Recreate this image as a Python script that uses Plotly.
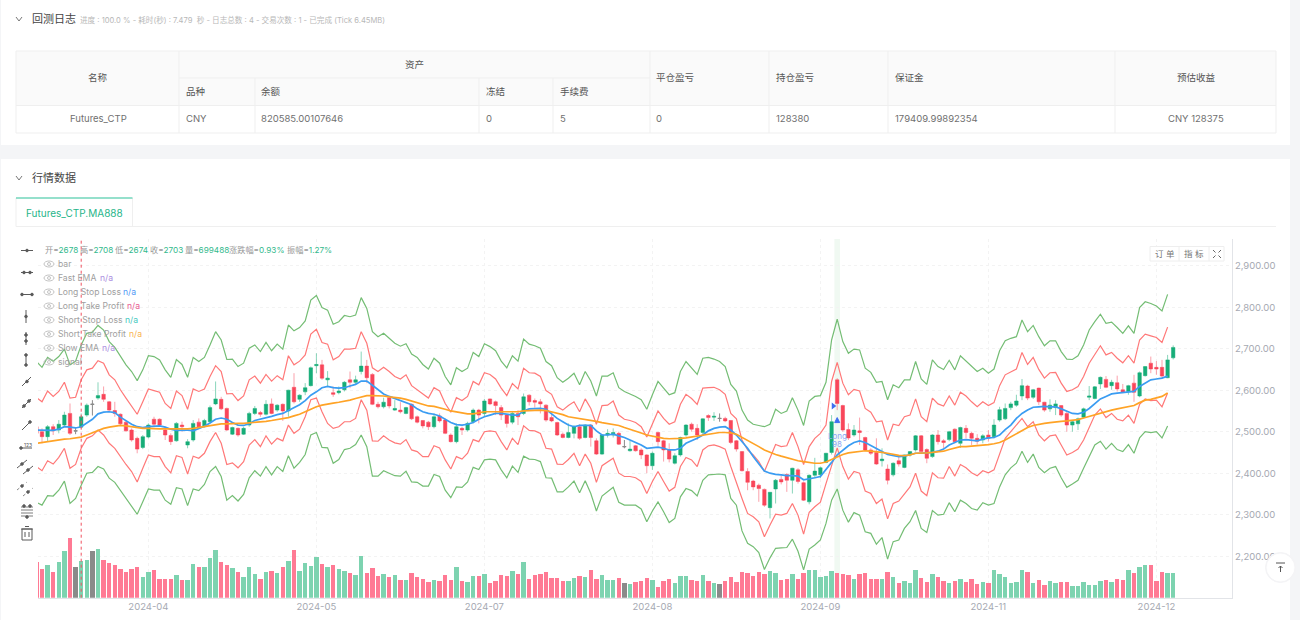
import plotly.graph_objects as go

W, H = 1300, 620

# ---------- chart data ----------
tick_index = [20, 50, 80, 110, 140, 170, 200]
tick_labels = ["2024-04", "2024-05", "2024-07", "2024-08", "2024-09", "2024-11", "2024-12"]
y_ticks = [2200, 2300, 2400, 2500, 2600, 2700, 2800, 2900]

opens = [2512,2500,2488,2512,2504,2516,2544,2502,2511,2540,2566,2581,2590,2572,2551,2542,2523,2504,2484,2462,2487,2530,2530,2504,2491,2478,2516,2468,2480,2523,
2512,2524,2567,2578,2556,2494,2508,2494,2516,2544,2546,2542,2567,2552,2566,2550,2607,2578,2596,2611,2659,2661,2625,2594,2594,2601,2625,2619,2645,2658,
2638,2566,2560,2582,2552,2552,2544,2566,2536,2527,2523,2512,2538,2528,2492,2476,2508,2504,2524,2552,2544,2579,2572,2558,2540,2523,2544,2544,2588,2575,
2572,2564,2534,2522,2494,2486,2496,2512,2486,2516,2478,2446,2492,2492,2496,2464,2454,2466,2456,2444,2418,2498,2478,2456,2424,2444,2492,2518,2508,2498,
2539,2535,2532,2532,2527,2478,2452,2404,2381,2371,2361,2317,2362,2385,2397,2383,2408,2377,2331,2395,2396,2426,2450,2625,2563,2505,2492,2502,2486,2456,
2450,2430,2410,2396,2430,2414,2444,2456,2490,2457,2440,2492,2478,2481,2506,2472,2508,2496,2484,2480,2492,2488,2528,2531,2558,2564,2586,2610,2583,2605,
2571,2555,2558,2563,2544,2516,2519,2535,2583,2580,2615,2626,2611,2618,2601,2597,2617,2586,2635,2665,2655,2655,2630,2678]
highs = [2536,2508,2516,2518,2528,2548,2568,2510,2544,2568,2576,2619,2609,2574,2572,2544,2526,2508,2488,2492,2520,2536,2532,2512,2496,2523,2524,2482,2528,2532,
2531,2563,2621,2584,2558,2512,2510,2512,2548,2562,2550,2576,2580,2566,2568,2601,2641,2590,2617,2657,2689,2673,2646,2609,2609,2622,2645,2635,2693,2673,
2641,2572,2582,2584,2576,2571,2560,2568,2539,2528,2526,2544,2544,2532,2496,2520,2512,2524,2556,2555,2579,2580,2575,2564,2542,2550,2552,2592,2590,2580,
2579,2566,2547,2524,2498,2520,2516,2518,2518,2518,2484,2494,2506,2508,2500,2480,2478,2468,2460,2446,2452,2500,2480,2472,2448,2488,2518,2522,2518,2532,
2542,2547,2544,2536,2528,2480,2453,2412,2384,2375,2363,2354,2386,2395,2400,2413,2412,2380,2397,2437,2416,2449,2540,2629,2565,2520,2516,2534,2488,2460,
2484,2460,2421,2426,2440,2445,2453,2492,2492,2460,2494,2504,2482,2502,2508,2512,2516,2500,2494,2494,2504,2530,2560,2568,2572,2589,2627,2613,2603,2606,
2572,2578,2576,2564,2548,2528,2534,2558,2610,2610,2633,2634,2625,2635,2615,2613,2637,2645,2658,2681,2670,2673,2685,2708]
lows = [2488,2472,2476,2492,2496,2512,2492,2494,2508,2536,2539,2577,2572,2550,2536,2516,2500,2476,2448,2458,2484,2512,2512,2480,2468,2476,2500,2460,2476,2508,
2510,2520,2564,2552,2502,2492,2488,2492,2512,2540,2536,2539,2542,2548,2526,2536,2568,2572,2588,2609,2641,2625,2609,2584,2590,2597,2605,2614,2638,2617,
2564,2556,2556,2556,2550,2544,2542,2528,2520,2508,2504,2508,2522,2494,2474,2472,2492,2500,2520,2520,2536,2564,2540,2528,2510,2518,2516,2540,2563,2558,
2544,2524,2523,2490,2484,2484,2484,2480,2484,2464,2444,2444,2486,2486,2468,2460,2452,2452,2434,2400,2408,2466,2428,2426,2421,2440,2488,2500,2480,2494,
2526,2526,2524,2523,2470,2452,2404,2359,2359,2331,2319,2291,2327,2373,2355,2351,2375,2333,2325,2388,2388,2424,2445,2552,2500,2480,2488,2468,2453,2444,
2420,2416,2373,2392,2416,2412,2440,2452,2448,2424,2437,2469,2460,2477,2472,2461,2484,2468,2469,2472,2476,2484,2524,2528,2552,2560,2576,2576,2579,2564,
2548,2548,2540,2536,2500,2500,2504,2532,2576,2578,2603,2605,2601,2597,2593,2589,2572,2583,2633,2641,2637,2629,2629,2674]
closes = [2496,2488,2512,2502,2518,2540,2496,2502,2536,2564,2566,2587,2578,2552,2544,2519,2502,2480,2458,2488,2516,2518,2516,2492,2476,2520,2512,2476,2520,2511,
2527,2558,2579,2555,2504,2510,2492,2508,2544,2556,2542,2566,2544,2564,2550,2600,2572,2588,2606,2654,2662,2629,2629,2590,2598,2619,2619,2625,2658,2630,
2566,2560,2571,2562,2556,2548,2558,2531,2523,2514,2512,2536,2526,2496,2476,2512,2504,2520,2552,2540,2574,2567,2563,2540,2520,2544,2536,2584,2572,2571,
2567,2528,2526,2492,2486,2498,2512,2484,2516,2486,2446,2492,2496,2498,2470,2464,2458,2454,2444,2418,2448,2476,2456,2434,2442,2486,2516,2506,2492,2531,
2534,2537,2532,2526,2474,2458,2406,2378,2367,2363,2323,2354,2383,2379,2383,2412,2380,2335,2395,2405,2413,2448,2524,2568,2504,2485,2504,2498,2456,2448,
2422,2434,2383,2424,2422,2444,2452,2490,2452,2436,2492,2476,2474,2500,2476,2510,2498,2484,2477,2490,2484,2516,2553,2556,2567,2574,2611,2581,2601,2572,
2552,2564,2567,2540,2516,2524,2531,2555,2586,2608,2631,2607,2619,2603,2595,2611,2595,2642,2657,2651,2651,2634,2673,2703]
volume_k = [1016,824,939,747,1035,1341,1725,891,1064,1083,1351,1399,1083,987,939,834,747,814,882,604,728,795,537,546,546,642,508,508,968,882,
882,1131,1361,1016,949,843,747,594,891,671,537,747,757,709,872,1054,1370,767,987,920,1159,968,872,949,814,767,699,661,1188,699,
862,623,671,584,652,508,508,699,584,527,460,508,479,652,508,891,479,460,623,613,680,412,489,642,623,757,680,1016,527,661,
680,728,565,575,489,489,565,623,604,805,546,661,508,498,565,422,383,450,489,565,508,307,479,546,431,613,613,517,479,661,
470,431,383,479,584,460,738,699,632,728,671,776,719,517,537,680,546,719,786,786,604,613,776,719,671,642,546,680,709,546,
546,527,738,604,431,489,431,786,565,450,680,604,479,412,479,546,450,546,393,450,412,805,680,584,412,441,805,738,431,498,
355,470,412,450,450,345,345,450,374,355,470,508,450,546,508,786,699,882,929,929,489,738,709,699]

upper_green = [2669,2655,2679,2670,2681,2699,2661,2670,2709,2737,2740,2756,2745,2717,2703,2681,2661,2645,2623,2649,2683,2681,2673,2649,2631,2674,2662,2631,2679,2669,2679,2709,2741,2721,2674,2675,2657,2665,2701,2709,2693,2715,2695,2711,2699,2757,2743,2751,2767,2817,2828,2799,2793,2759,2765,2780,2777,
2781,2823,2797,2741,2729,2737,2725,2713,2706,2712,2687,2679,2662,2651,2677,2665,2633,2613,2654,2645,2653,2691,2681,2712,2705,2695,2670,2654,2683,2670,2723,2711,2707,2701,2669,2659,2630,2619,2629,2641,2613,2645,2622,2586,2634,2634,2642,2606,2597,2591,2585,2577,2554,2589,2621,2605,2589,2594,2645,2669,2654,2638,
2677,2679,2675,2669,2657,2614,2598,2552,2528,2518,2515,2512,2518,2554,2544,2550,2582,2552,2515,2574,2585,2587,2619,2721,2771,2717,2689,2699,2697,2653,2643,2619,2621,2577,2613,2606,2625,2625,2669,2627,2614,2673,2657,2650,2672,2649,2683,2670,2658,2645,2653,2641,2651,2695,
2719,2725,2729,2769,2741,2756,2729,2707,2719,2719,2693,2675,2674,2683,2709,2745,2765,2783,2761,2764,2751,2737,2755,2737,2799,2813,2809,2803,2791,2831]
upper_red = [2582,2572,2598,2585,2597,2619,2581,2583,2625,2649,2653,2671,2665,2637,2625,2601,2581,2560,2542,2572,2603,2599,2595,2568,2556,2598,2587,2554,2603,2597,2603,2633,2659,2645,2591,2592,2575,2586,2625,2634,2617,2638,2622,2635,2625,2683,2661,2670,2685,2735,2747,2715,2711,2673,2681,2699,2699,
2701,2741,2713,2654,2645,2655,2645,2633,2627,2637,2611,2601,2590,2581,2606,2598,2568,2547,2582,2575,2585,2621,2613,2642,2638,2627,2605,2587,2616,2603,2653,2642,2641,2633,2599,2590,2560,2552,2563,2572,2548,2579,2556,2518,2563,2564,2574,2540,2530,2527,2522,2512,2487,2520,2550,2532,2518,2524,2566,2590,2580,2566,
2605,2606,2607,2601,2590,2544,2531,2480,2456,2444,2428,2404,2436,2469,2464,2466,2498,2464,2421,2464,2484,2496,2516,2621,2667,2617,2589,2602,2598,2556,2547,2524,2526,2480,2518,2515,2536,2540,2579,2536,2524,2581,2567,2562,2586,2564,2595,2586,2572,2560,2572,2563,2570,2611,
2637,2645,2651,2691,2662,2679,2650,2629,2642,2643,2617,2597,2601,2609,2633,2665,2685,2707,2685,2691,2677,2666,2683,2665,2721,2735,2731,2727,2715,2752]
lower_red = [2416,2406,2430,2422,2438,2460,2412,2421,2460,2484,2490,2504,2492,2472,2460,2440,2421,2404,2379,2412,2444,2440,2440,2416,2401,2442,2438,2398,2441,2436,2448,2476,2498,2472,2421,2425,2413,2428,2468,2481,2464,2490,2470,2484,2478,2516,2496,2506,2536,2577,2581,2548,2520,
2508,2512,2524,2524,2532,2577,2552,
2478,2477,2490,2480,2473,2470,2481,2456,2452,2440,2440,2466,2461,2432,2410,2440,2434,2448,2481,2476,2500,2502,2500,2476,2456,2484,2469,2514,2503,2502,2496,2460,2458,2422,2421,2433,2448,2418,2446,2424,2378,2418,2428,2436,2400,2392,2392,2389,2380,2351,2380,2404,2380,2357,2366,2416,2438,2432,2416,
2456,2466,2468,2464,2458,2416,2375,2339,2303,2295,2283,2247,2275,2301,2299,2303,2327,2299,2253,2306,2319,2330,2375,2420,2461,2416,2386,2404,2400,2357,2351,2327,2338,2290,2327,2333,2351,2367,2400,2357,2346,2401,2389,2388,2416,2393,2421,2413,2401,2394,2406,2401,2408,2448,
2484,2500,2516,2532,2512,2524,2492,2478,2490,2492,2468,2444,2450,2458,2480,2512,2540,2555,2534,2544,2530,2526,2540,2520,2566,2579,2575,2576,2560,2593]
lower_green = [2330,2323,2346,2345,2359,2381,2327,2339,2371,2400,2402,2416,2410,2388,2378,2359,2339,2319,2301,2331,2362,2359,2359,2335,2325,2365,2362,2322,2362,2358,2373,2404,2416,2392,2335,2346,2333,2349,2389,2406,2393,2416,2396,2416,2404,2442,2412,2426,2445,2492,2498,2462,2461,2424,2433,2457,2460,
2469,2492,2464,2393,2393,2406,2400,2394,2393,2405,2379,2378,2369,2369,2397,2392,2359,2341,2367,2366,2379,2414,2409,2432,2434,2432,2408,2389,2417,2402,2441,2434,2433,2428,2389,2388,2355,2355,2367,2381,2353,2382,2351,2309,2345,2355,2366,2330,2323,2323,2323,2314,2283,2309,2331,2307,2281,2291,2343,2363,2358,2345,
2383,2396,2397,2398,2396,2339,2323,2261,2231,2223,2209,2168,2196,2219,2220,2221,2241,2212,2167,2217,2227,2239,2279,2335,2362,2311,2282,2305,2299,2259,2255,2229,2245,2193,2235,2239,2267,2283,2310,2267,2257,2310,2299,2301,2329,2307,2335,2327,2315,2311,2329,2323,2327,2367,
2396,2413,2424,2453,2426,2446,2414,2401,2412,2416,2389,2366,2374,2383,2412,2440,2468,2477,2458,2472,2457,2452,2469,2448,2485,2500,2498,2500,2485,2514]
fast_ema = [2504,2504,2504,2503,2506,2512,2511,2509,2512,2522,2530,2543,2547,2548,2546,2535,2526,2518,2512,2510,2512,2513,2514,2511,2506,2503,2504,2504,2502,2508,2513,2521,2530,2533,2530,2522,2516,2515,2519,2527,2530,2533,2537,2541,2544,2551,2558,2565,2575,2588,2596,2606,2609,2606,2605,2606,2610,2614,2622,2622,2612,2601,
2591,2585,2580,2575,2570,2565,2555,2548,2544,2542,2538,2530,2522,2517,2516,2518,2522,2530,2536,2540,2544,2544,2542,2540,2540,2550,2555,2556,2556,2554,2542,2532,2524,2516,2512,2515,2515,2515,2502,2492,2492,2494,2490,2486,2480,2474,2468,2460,2462,2463,2460,2456,2456,2460,2472,2478,2484,2492,2502,2508,2511,2512,2504,2492,2476,2460,2440,2421,2405,2400,2397,2396,2394,2394,2393,2384,2386,2389,2392,2408,2426,2444,2456,2466,2474,2478,2474,2466,2458,2452,2445,2442,2440,2441,2445,2448,2448,2449,2450,2453,2458,2468,2474,2480,2481,2480,2478,2482,2485,2486,2492,
2505,2516,2532,2544,2552,2559,2560,2561,2560,2560,2555,2550,2544,2543,2547,2556,2568,2579,2585,2591,2593,2594,2595,2597,2609,2617,2625,2627,2629,2634]
slow_ema = [2472,2474,2476,2479,2480,2482,2483,2485,2487,2492,2497,2503,2508,2511,2513,2515,2514,2512,2510,2508,2508,2507,2507,2507,2507,2506,2506,2507,2508,2510,2513,2515,2517,2519,2519,2520,2520,2520,2521,2523,2524,2525,2527,2529,2531,2534,2538,2542,2548,2555,2560,2564,2567,2569,2571,2573,2576,2580,2584,2587,2587,2587,2586,2584,2583,2581,2578,2574,2570,2566,2562,
2561,2558,2554,2550,2548,2545,2543,2543,2545,2548,2548,2548,2548,2548,2548,2548,2550,2551,2552,2552,2551,2548,2545,2541,2536,2534,2532,2530,2528,2525,2522,2520,2518,2515,2510,2506,2502,2497,2492,2489,2486,2484,2483,2483,2484,2485,2487,2489,2491,2494,2496,2498,2498,2497,2494,2487,2480,2472,2464,2456,2450,2445,2441,2437,2433,2430,2428,2426,2424,2424,2427,2433,
2440,2445,2449,2451,2453,2454,2453,2452,2450,2448,2445,2443,2442,2444,2448,2448,2449,2450,2451,2453,2457,2460,2464,2464,2465,2467,2468,2469,2471,2474,
2480,2488,2496,2504,2510,2515,2518,2520,2522,2524,2525,2526,2527,2529,2533,2537,2541,2545,2548,2552,2555,2558,2561,2563,2570,2576,2578,2582,2585,2593]

signal_bar = 143
entry_bar = 8
entry_marker_bar = 142.3
entry_marker_price = 2562
fill_marker_price = 2534

header_labels = ["开", "高", "低", "收", "量", "涨跌幅", "振幅"]
header_values = ["2678", "2708", "2674", "2703", "699488", "0.93%", "1.27%"]
indicator_names = ["bar", "Fast EMA", "Long Stop Loss", "Long Take Profit", "Short Stop Loss", "Short Take Profit", "Slow EMA", "signal"]
indicator_values = ["", "n/a", "n/a", "n/a", "n/a", "n/a", "n/a", ""]
indicator_colors = ["#999999", "#a98be0", "#4f97f5", "#e8568f", "#45c8c0", "#f9b24c", "#a98be0", "#999999"]

table_top = ["名称", "资产", "平仓盈亏", "持仓盈亏", "保证金", "预估收益"]
table_sub = ["品种", "余额", "冻结", "手续费"]
table_row = ["Futures_CTP", "CNY", "820585.00107646", "0", "5", "0", "128380", "179409.99892354", "CNY 128375"]

# ---------- helpers ----------
FONT = "Inter, 'Noto Sans CJK SC', sans-serif"
UP, DOWN, FLAT = "#16ad78", "#f9465a", "#8a8a8a"
VUP, VDOWN = "#7dd3b0", "#ff7a94"
shapes, notes = [], []

def fx(x): return x / W
def fy(y): return 1 - y / H
def rect(x0, y0, x1, y1, fill="rgba(0,0,0,0)", line="rgba(0,0,0,0)", lw=1, layer="below"):
    shapes.append(dict(type="rect", xref="paper", yref="paper", x0=fx(x0), x1=fx(x1), y0=fy(y0), y1=fy(y1),
                       fillcolor=fill, line=dict(color=line, width=lw), layer=layer))
def seg(x0, y0, x1, y1, color="#555555", lw=1, layer="above", dash="solid"):
    shapes.append(dict(type="line", xref="paper", yref="paper", x0=fx(x0), x1=fx(x1), y0=fy(y0), y1=fy(y1),
                       line=dict(color=color, width=lw, dash=dash), layer=layer))
def oval(cx, cy, rx, ry, fill="rgba(0,0,0,0)", line="#555555", lw=1, layer="above"):
    shapes.append(dict(type="circle", xref="paper", yref="paper", x0=fx(cx-rx), x1=fx(cx+rx), y0=fy(cy-ry), y1=fy(cy+ry),
                       fillcolor=fill, line=dict(color=line, width=lw), layer=layer))
def text(x, y, s, size=10, color="#666666", anchor="left", font=FONT):
    notes.append(dict(xref="paper", yref="paper", x=fx(x), y=fy(y), text=s, showarrow=False, xanchor=anchor, yanchor="middle",
                      font=dict(size=size, color=color, family=font), borderpad=0, borderwidth=0))

# ---------- page chrome ----------
rect(1, 0, 1290, 145, fill="#ffffff")
rect(1, 159, 1290, 620, fill="#ffffff")
for cy, title in [(19, "回测日志"), (178, "行情数据")]:
    seg(16, cy-2, 19, cy+2, color="#777777"); seg(19, cy+2, 22, cy-2, color="#777777")
    text(32, cy, title, size=11, color="#444444")
text(80, 20, "进度 : 100.0 % - 耗时(秒) : 7.479  秒 - 日志总数 : 4 - 交易次数 : 1 - 已完成 (Tick 6.45MB)", size=7.6, color="#b8b8b8")

# table
BORDER = "#efefef"
rect(16, 51, 1276, 105.5, fill="#fafafa")
rect(16, 105.5, 1276, 133, fill="#ffffff")
for c in [16, 179, 650, 769, 888, 1115, 1276]:
    seg(c, 51, c, 133, color=BORDER, layer="below")
for c in [255, 479, 553]:
    seg(c, 78, c, 133, color=BORDER, layer="below")
seg(16, 51, 1276, 51, color=BORDER, layer="below")
seg(179, 78, 650, 78, color=BORDER, layer="below")
seg(16, 105.5, 1276, 105.5, color=BORDER, layer="below")
seg(16, 133, 1276, 133, color=BORDER, layer="below")
text(98, 78, table_top[0], 9.5, "#555555", "center")
text(415, 64, table_top[1], 9.5, "#555555", "center")
for x, s in zip([656, 776, 895], table_top[2:5]):
    text(x, 78, s, 9.5, "#555555")
text(1196, 78, table_top[5], 9.5, "#555555", "center")
for x, s in zip([186, 261, 486, 560], table_sub):
    text(x, 91.5, s, 9.5, "#555555")
text(98, 119, table_row[0], 9.5, "#707070", "center")
for x, s in zip([186, 261, 486, 560, 656, 776, 895], table_row[1:8]):
    text(x, 119, s, 9.5, "#707070")
text(1196, 119, table_row[8], 9.5, "#707070", "center")

# tab
seg(16, 226.5, 1276, 226.5, color="#efefef", layer="below")
seg(132.5, 198, 132.5, 226.5, color="#efefef", layer="below")
seg(16, 198, 16, 226.5, color="#efefef", layer="below")
seg(16, 198, 132.5, 198, color="#2cc19a", lw=1.2, layer="below")
text(74.5, 212.5, "Futures_CTP.MA888", 10, "#1fb58a", "center")

# ---------- toolbar glyphs ----------
TB = 27
G = "#5a5a5a"
def dot(x, y): oval(x, y, 1.3, 1.3, fill=G, line=G)
seg(TB-6, 250.5, TB+6, 250.5, G); dot(TB, 250.5)
seg(TB-6, 272.5, TB+6, 272.5, G); dot(TB-3, 272.5); dot(TB+3, 272.5)
seg(TB-6, 294.5, TB+6, 294.5, G); dot(TB-5, 294.5); dot(TB+5, 294.5)
seg(TB-1, 310, TB-1, 323, G); dot(TB-1, 316.5)
seg(TB-1, 332, TB-1, 345, G); dot(TB-1, 335); dot(TB-1, 341)
seg(TB-1, 354, TB-1, 366, G); dot(TB-1, 355); dot(TB-1, 365)
seg(TB-5, 386, TB+4, 377, G); dot(TB, 381.5)
seg(TB-5, 408, TB+4, 399, G); dot(TB-3, 406); dot(TB+2, 401)
seg(TB-5, 430, TB+4, 421, G); dot(TB+3, 422)
seg(TB-7, 448, TB+5, 448, G); dot(TB-6, 448)
text(TB+0.5, 444.5, "123", 5, G, "center")
for dx in (-3, 3):
    seg(TB-7+dx, 471+dx, TB+3+dx, 463+dx, G); dot(TB-2+dx, 467+dx)
for dx in (-3, 3):
    seg(TB-7+dx, 493+dx, TB+3+dx, 485+dx, "#888888", dash="dot"); dot(TB-2+dx, 489+dx)
for yy in (507, 510, 513, 516):
    seg(TB-6, yy, TB+6, yy, G, lw=0.8)
dot(TB-3, 506); dot(TB+3, 506); dot(TB, 517)
rect(TB-5, 529, TB+5, 540, line=G, layer="above")
seg(TB-6, 529, TB+6, 529, G); seg(TB-2, 526.5, TB+2, 526.5, G)
seg(TB-2, 532, TB-2, 537, G); seg(TB+2, 532, TB+2, 537, G)

# ---------- indicator legend ----------
header_x = [45, 80, 115, 150, 185, 229, 287]
for hx, a, b in zip(header_x, header_labels, header_values):
    text(hx, 250, f'<span style="color:#999999">{a}=</span><span style="color:#33b98c">{b}</span>', 8.2)
value_x = [0, 100, 123, 127, 125, 129, 102, 0]
for k, (name, val, colr) in enumerate(zip(indicator_names, indicator_values, indicator_colors)):
    yy = 264 + 14 * k
    oval(49, yy, 5, 3, line="#b5b5b5", lw=0.8)
    oval(49, yy, 1.5, 1.5, line="#b5b5b5", lw=0.8)
    text(58, yy, name, 8.6, "#a0a0a0")
    if val:
        text(value_x[k], yy, val, 8.6, colr)

# ---------- top-right buttons and scroll button ----------
rect(1150, 246.5, 1224, 261, fill="#ffffff", line="#eeeeee", layer="above")
seg(1179, 246.5, 1179, 261, "#eeeeee"); seg(1209, 246.5, 1209, 261, "#eeeeee")
text(1164.5, 254, "订 单", 8.5, "#777777", "center")
text(1194, 254, "指 标", 8.5, "#777777", "center")
for sx, sy in [(-1, -1), (1, -1), (-1, 1), (1, 1)]:
    seg(1217+sx*1.5, 254+sy*1.5, 1217+sx*4, 254+sy*4, "#666666")
oval(1280.5, 567.5, 15, 15, fill="#f4f4f6", line="#f4f4f6")
oval(1280.5, 567.5, 13.5, 13.5, fill="#ffffff", line="#ffffff")
seg(1276, 563, 1285, 563, "#555555"); seg(1280.5, 566, 1280.5, 572, "#555555")
seg(1280.5, 566, 1278.5, 568, "#555555"); seg(1280.5, 566, 1282.5, 568, "#555555")

# ---------- chart ----------
index = list(range(len(closes)))
assert len(opens) == len(highs) == len(lows) == len(closes) == len(volume_k) == 204
for s_ in (upper_green, upper_red, lower_red, lower_green, fast_ema, slow_ema):
    assert len(s_) == 203, len(s_)

def vcolor(o, c):
    return VUP if c > o else (VDOWN if c < o else FLAT)

fig = go.Figure()
fig.add_trace(go.Bar(x=index, y=[v * 1000 for v in volume_k], yaxis="y2", width=0.76,
                     marker=dict(color=[vcolor(o, c) for o, c in zip(opens, closes)], line=dict(width=0)),
                     hoverinfo="skip"))
band_style = [(upper_green, "#74bd74"), (upper_red, "#ff7878"), (lower_red, "#ff7878"), (lower_green, "#74bd74")]
for series, colr in band_style:
    fig.add_trace(go.Scatter(x=index[:len(series)], y=series, mode="lines", line=dict(color=colr, width=1.2), hoverinfo="skip"))

moving = [i for i in index if opens[i] != closes[i]]
still = [i for i in index if opens[i] == closes[i]]
def pick(arr, idx): return [arr[i] for i in idx]
fig.add_trace(go.Candlestick(x=moving, open=pick(opens, moving), high=pick(highs, moving), low=pick(lows, moving), close=pick(closes, moving),
                             increasing=dict(line=dict(color="rgba(22,173,120,0.5)", width=1), fillcolor=UP),
                             decreasing=dict(line=dict(color="rgba(249,70,90,0.5)", width=1), fillcolor=DOWN),
                             whiskerwidth=0, hoverinfo="skip"))
fig.add_trace(go.Candlestick(x=still, open=pick(opens, still), high=pick(highs, still), low=pick(lows, still), close=pick(closes, still),
                             increasing=dict(line=dict(color=FLAT, width=1), fillcolor=FLAT),
                             decreasing=dict(line=dict(color=FLAT, width=1), fillcolor=FLAT),
                             whiskerwidth=0, hoverinfo="skip"))
fig.add_trace(go.Scatter(x=index[:len(fast_ema)], y=fast_ema, mode="lines", line=dict(color="#3a9cf2", width=1.7), hoverinfo="skip"))
fig.add_trace(go.Scatter(x=index[:len(slow_ema)], y=slow_ema, mode="lines", line=dict(color="#ffa326", width=1.7), hoverinfo="skip"))
fig.add_trace(go.Scatter(x=[entry_marker_bar], y=[entry_marker_price], mode="markers",
                         marker=dict(symbol="triangle-right", size=6, color="#3f6ff0"), hoverinfo="skip"))
fig.add_trace(go.Scatter(x=[signal_bar], y=[fill_marker_price], mode="markers",
                         marker=dict(symbol="arrow-up", size=5, color="#3f6ff0", line=dict(color="#3f6ff0", width=1)), hoverinfo="skip"))

# signal band and entry line use the data x-axis
shapes.append(dict(type="rect", xref="x", yref="y domain", x0=signal_bar-0.5, x1=signal_bar+0.5, y0=0, y1=1,
                   fillcolor="rgba(60,180,90,0.08)", line=dict(width=0), layer="below"))
shapes.append(dict(type="line", xref="x", yref="y domain", x0=entry_bar, x1=entry_bar, y0=0, y1=1,
                   line=dict(color="#f0505f", width=1, dash="3px,3px"), layer="above"))
notes.append(dict(xref="x", yref="y", x=signal_bar, y=2490, text="Long", showarrow=False, font=dict(size=8, color="#8aa6f5", family=FONT)))
notes.append(dict(xref="x", yref="y", x=signal_bar, y=2470, text="98", showarrow=False, font=dict(size=8, color="#8aa6f5", family=FONT)))

fig.update_layout(
    width=W, height=H, margin=dict(l=0, r=0, t=0, b=0), autosize=False,
    paper_bgcolor="#f4f5f7", plot_bgcolor="rgba(0,0,0,0)", showlegend=False, bargap=0, hovermode=False, boxgap=0.12,
    font=dict(family=FONT), shapes=shapes, annotations=notes,
    xaxis=dict(domain=[38/W, 1232/W], range=[0.286, 213.5], tickmode="array", tickvals=tick_index, ticktext=tick_labels,
               showgrid=True, gridcolor="#f3f3f3", griddash="dot", gridwidth=1, zeroline=False, rangeslider=dict(visible=False),
               showline=True, linecolor="#e2e4e8", linewidth=1, ticks="", tickfont=dict(size=9.5, color="#a6a9b2"), anchor="y", ticklen=0),
    yaxis=dict(domain=[1-597.7/H, 1-239/H], range=[2100, 2964.3], side="right", tickmode="array", tickvals=y_ticks, tickformat=",.2f",
               showgrid=True, gridcolor="#f3f3f3", griddash="dot", gridwidth=1, zeroline=False, showline=True, linecolor="#e2e4e8",
               linewidth=1, ticks="", tickfont=dict(size=9.5, color="#a6a9b2"), anchor="x"),
    yaxis2=dict(domain=[1-597.7/H, 1-239/H], overlaying="y", range=[0, 10311000], showgrid=False, showticklabels=False, zeroline=False, visible=False),
)
fig.write_html("out.html", config=dict(displayModeBar=False),
               post_script="document.body.style.margin='0';document.body.style.overflow='hidden';document.body.style.background='#f4f5f7';")
